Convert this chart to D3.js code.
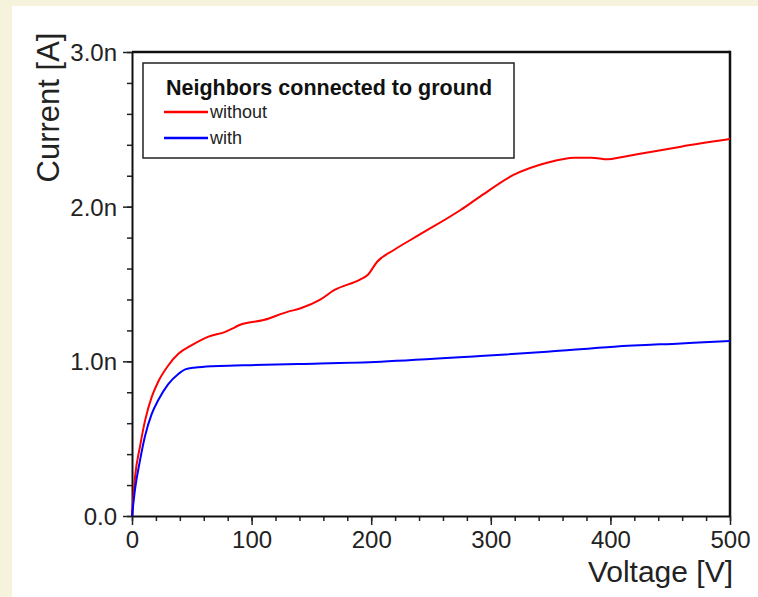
<!DOCTYPE html>
<html>
<head>
<meta charset="utf-8">
<script src="https://cdn.jsdelivr.net/npm/d3@7"></script>
<style>
  body { margin: 0; background: #f5f3dc; }
  svg { display: block; font-family: "Liberation Sans", Arial, sans-serif; }
</style>
</head>
<body>
<div id="chart"></div>
<script>

// values (voltage in V, current in nA)
var withoutV = [0, 2.5, 6.7, 11, 16.5, 22, 30, 39, 50, 64, 78, 86, 90, 110, 130, 141, 157, 169, 191, 197, 205, 219, 240, 275, 291, 319, 347, 370, 384, 398, 409, 431, 459, 500];
var withoutI = [0, 0.25, 0.45, 0.62, 0.77, 0.87, 0.97, 1.05, 1.105, 1.16, 1.19, 1.22, 1.235, 1.267, 1.32, 1.343, 1.397, 1.46, 1.53, 1.558, 1.644, 1.72, 1.817, 1.98, 2.065, 2.205, 2.284, 2.317, 2.317, 2.306, 2.32, 2.35, 2.388, 2.437];

var withV = [0, 2.5, 6.7, 11, 16.5, 22, 30, 39, 44.5, 53, 67, 86, 99, 141, 208, 291, 347, 403, 459, 500];
var withI = [0, 0.17, 0.36, 0.52, 0.66, 0.75, 0.85, 0.92, 0.948, 0.96, 0.969, 0.973, 0.975, 0.983, 0.998, 1.034, 1.062, 1.095, 1.116, 1.131];

var xTicks = [0, 100, 200, 300, 400, 500];
var yTicks = [0, 1, 2, 3];
var yTickLabels = ["0.0", "1.0n", "2.0n", "3.0n"];

var legendTitle = "Neighbors connected to ground";
var seriesNames = ["without", "with"];
var seriesColors = ["#ff0000", "#0000ff"];

// dimensions
var W = 758, H = 597;
var margin = {top: 52, right: 28, bottom: 81, left: 132},
    width = W - margin.left - margin.right,
    height = H - margin.top - margin.bottom;

var svg = d3.select("#chart")
    .append("svg")
        .attr("width", W)
        .attr("height", H);

// white panel on the cream page
svg.append("rect")
    .attr("x", 12).attr("y", 6)
    .attr("width", W - 12).attr("height", H - 6)
    .attr("fill", "#ffffff");

var g = svg.append("g")
    .attr("transform", "translate(" + margin.left + "," + margin.top + ")");

var xScale = d3.scaleLinear().domain([0, 500]).range([0, width]);
var yScale = d3.scaleLinear().domain([0, 3]).range([height, 0]);

// minor ticks
g.append("g")
    .attr("transform", "translate(0," + height + ")")
    .call(d3.axisBottom(xScale).tickValues(d3.range(0, 501, 20)).tickSize(5).tickFormat(""))
    .call(function(s) { s.select(".domain").remove(); s.selectAll("line").attr("stroke", "#222").attr("stroke-width", 1.5); });

g.append("g")
    .call(d3.axisLeft(yScale).tickValues(d3.range(0, 3.01, 0.2)).tickSize(5).tickFormat(""))
    .call(function(s) { s.select(".domain").remove(); s.selectAll("line").attr("stroke", "#222").attr("stroke-width", 1.5); });

// major ticks and labels
var xAxis = g.append("g")
    .attr("transform", "translate(0," + height + ")")
    .call(d3.axisBottom(xScale).tickValues(xTicks).tickSize(9).tickSizeOuter(0).tickPadding(6));

var yAxis = g.append("g")
    .call(d3.axisLeft(yScale).tickValues(yTicks).tickSize(9).tickSizeOuter(0).tickPadding(6)
        .tickFormat(function(d, i) { return yTickLabels[i]; }));

[xAxis, yAxis].forEach(function(a) {
    a.select(".domain").attr("stroke", "#111").attr("stroke-width", 2);
    a.selectAll(".tick line").attr("stroke", "#222").attr("stroke-width", 1.5);
    a.selectAll(".tick text").attr("fill", "#222").style("font-size", "24px")
        .style("font-family", "'Liberation Sans', Arial, sans-serif");
});
yAxis.selectAll(".tick text").attr("dy", "0.36em");

// top and right frame
g.append("line").attr("x1", 0).attr("x2", width).attr("y1", 0).attr("y2", 0)
    .attr("stroke", "#111").attr("stroke-width", 2.5);
g.append("line").attr("x1", width).attr("x2", width).attr("y1", -1.2).attr("y2", height)
    .attr("stroke", "#111").attr("stroke-width", 2.5);

// lines
var line = d3.line()
    .x(function(d) { return xScale(d[0]); })
    .y(function(d) { return yScale(d[1]); })
    .curve(d3.curveMonotoneX);

var series = [d3.zip(withoutV, withoutI), d3.zip(withV, withI)];

series.forEach(function(s, i) {
    g.append("path")
        .attr("d", line(s))
        .attr("fill", "none")
        .attr("stroke", seriesColors[i])
        .attr("stroke-width", 2);
});

// axis titles
svg.append("text")
    .attr("transform", "translate(59,107.5) rotate(-90)")
    .attr("text-anchor", "middle")
    .attr("fill", "#222")
    .style("font-size", "31px")
    .text("Current [A]");

svg.append("text")
    .attr("x", 733).attr("y", 582)
    .attr("text-anchor", "end")
    .attr("fill", "#222")
    .style("font-size", "30px")
    .text("Voltage [V]");

// legend
var legend = svg.append("g");
legend.append("rect")
    .attr("x", 143).attr("y", 63)
    .attr("width", 371).attr("height", 95)
    .attr("fill", "#fff")
    .attr("stroke", "#222")
    .attr("stroke-width", 1.5);

legend.append("text")
    .attr("x", 166).attr("y", 95)
    .attr("fill", "#111")
    .style("font-size", "21.5px")
    .style("font-weight", "bold")
    .text(legendTitle);

seriesNames.forEach(function(name, i) {
    var y = 112 + i * 26;
    legend.append("line")
        .attr("x1", 164).attr("x2", 208)
        .attr("y1", y).attr("y2", y)
        .attr("stroke", seriesColors[i])
        .attr("stroke-width", 2.5);
    legend.append("text")
        .attr("x", 210).attr("y", y + 6)
        .attr("fill", "#222")
        .style("font-size", "18px")
        .text(name);
});

</script>
</body>
</html>
